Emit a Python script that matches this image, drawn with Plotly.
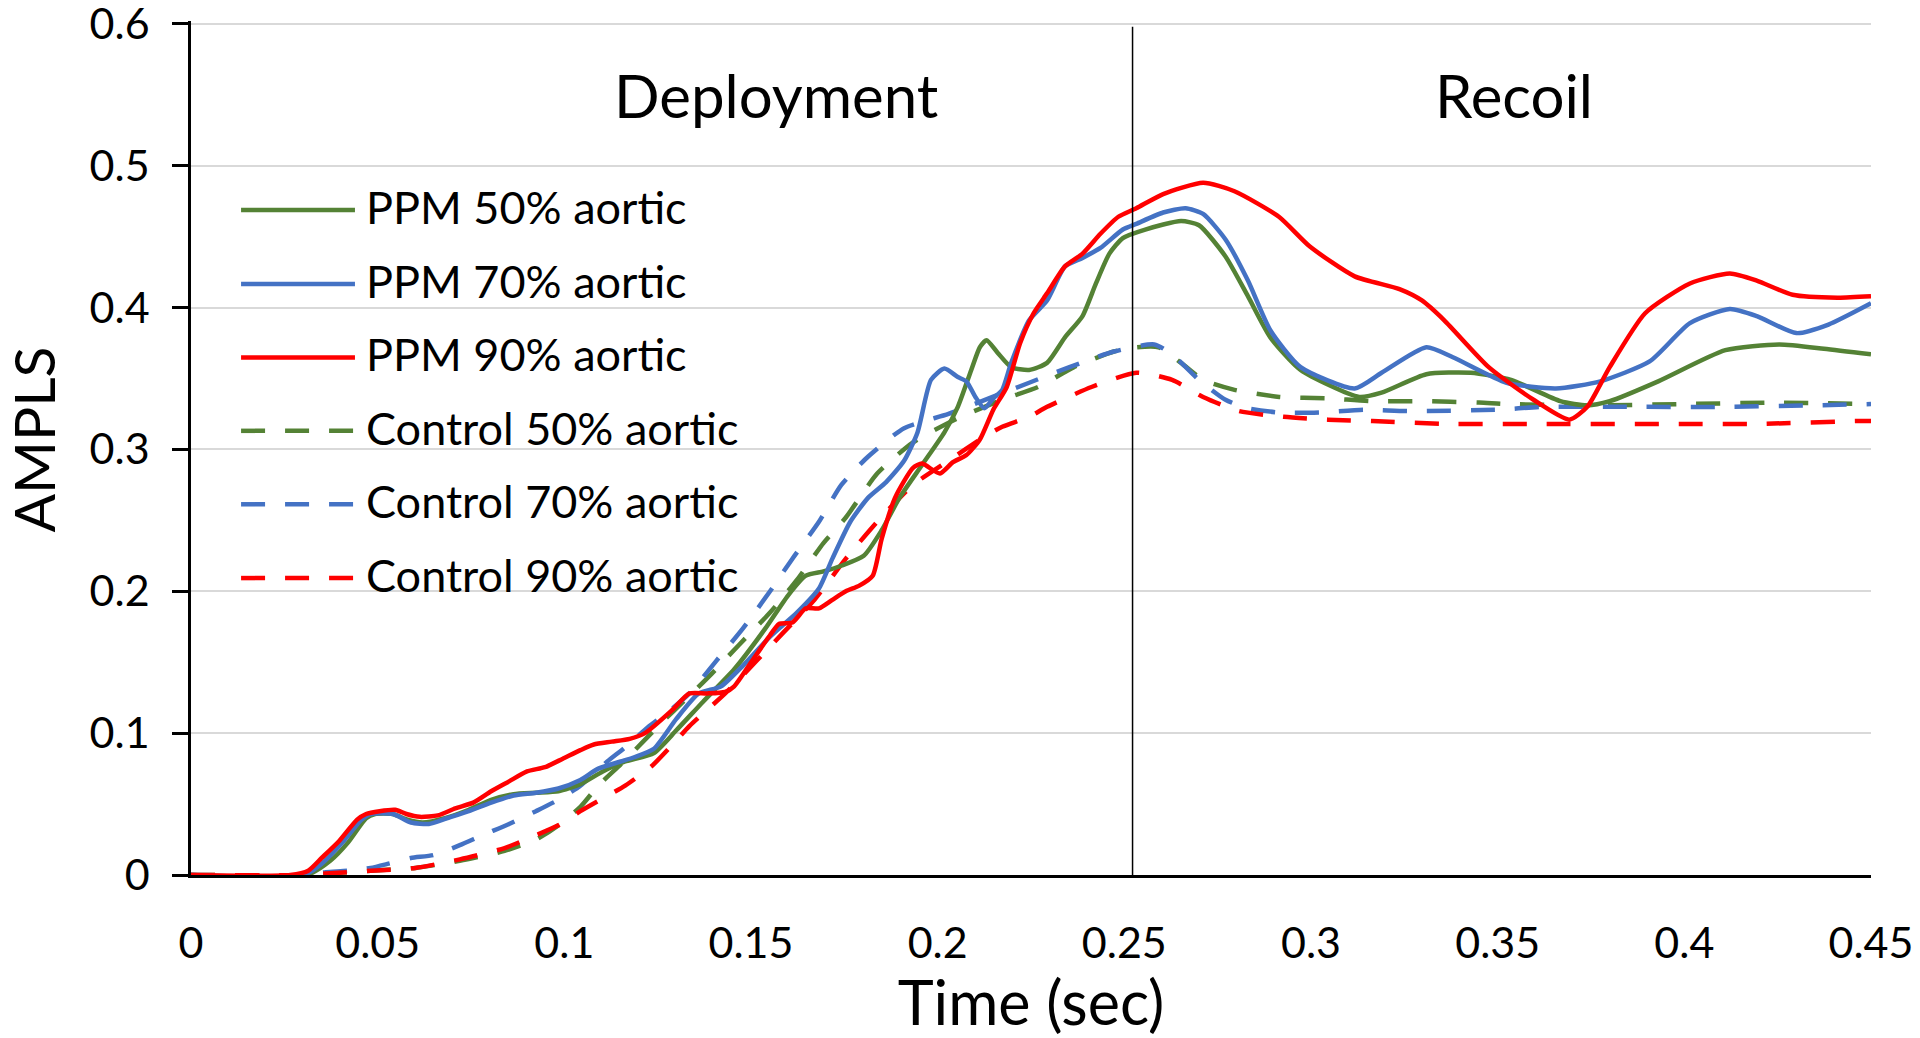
import plotly.graph_objects as go

# ---------------- data ----------------
series_names = ["PPM 50% aortic", "PPM 70% aortic", "PPM 90% aortic",
                "Control 50% aortic", "Control 70% aortic", "Control 90% aortic"]

ppm50_t = [0, 0.031, 0.0373, 0.0421, 0.0469, 0.0493, 0.054, 0.058, 0.062, 0.068, 0.0744, 0.0804,
           0.0864, 0.0924, 0.0984, 0.1043, 0.1103, 0.1163, 0.124, 0.13, 0.1371, 0.1455, 0.1539,
           0.1599, 0.1647, 0.1694, 0.1742, 0.1802, 0.185, 0.1898, 0.1958, 0.2018, 0.2054, 0.209,
           0.2113, 0.2131, 0.2161, 0.2197, 0.2245, 0.2293, 0.2341, 0.2388, 0.2424, 0.246, 0.2496,
           0.2556, 0.2652, 0.27, 0.2771, 0.2831, 0.2891, 0.2972, 0.3129, 0.3189, 0.3309, 0.3428,
           0.3536, 0.3668, 0.374, 0.380, 0.393, 0.411, 0.4254, 0.4374, 0.45]
ppm50_v = [0, 0, 0.010, 0.023, 0.040, 0.043, 0.043, 0.039, 0.037, 0.040, 0.046, 0.053,
           0.057, 0.058, 0.059, 0.064, 0.073, 0.080, 0.086, 0.102, 0.122, 0.145, 0.174,
           0.197, 0.211, 0.214, 0.218, 0.225, 0.243, 0.266, 0.289, 0.312, 0.330, 0.356,
           0.372, 0.377, 0.368, 0.358, 0.356, 0.361, 0.379, 0.394, 0.417, 0.438, 0.449,
           0.455, 0.461, 0.458, 0.436, 0.408, 0.379, 0.356, 0.337, 0.340, 0.353, 0.354,
           0.349, 0.334, 0.331, 0.334, 0.348, 0.370, 0.374, 0.371, 0.367]

ppm70_t = [0, 0.0302, 0.035, 0.0409, 0.0457, 0.0481, 0.0541, 0.0589, 0.0637, 0.0685, 0.0744,
           0.0804, 0.0864, 0.0924, 0.0984, 0.1043, 0.1091, 0.1151, 0.1187, 0.124, 0.13, 0.136,
           0.142, 0.148, 0.1551, 0.1623, 0.1682, 0.1718, 0.1766, 0.1814, 0.1862, 0.191, 0.1946,
           0.1982, 0.2018, 0.2054, 0.2077, 0.2101, 0.2125, 0.2149, 0.2173, 0.2197, 0.2245,
           0.2293, 0.2341, 0.2388, 0.2436, 0.2496, 0.2532, 0.2604, 0.2664, 0.2711, 0.2771,
           0.2831, 0.2891, 0.2972, 0.3117, 0.3189, 0.3309, 0.338, 0.3524, 0.3656, 0.3775,
           0.3907, 0.4015, 0.4122, 0.4194, 0.430, 0.4386, 0.45]
ppm70_v = [0, 0, 0.008, 0.024, 0.039, 0.043, 0.043, 0.037, 0.036, 0.040, 0.045,
           0.051, 0.056, 0.058, 0.061, 0.067, 0.075, 0.080, 0.083, 0.089, 0.110, 0.128,
           0.133, 0.148, 0.168, 0.185, 0.202, 0.223, 0.249, 0.266, 0.277, 0.292, 0.312,
           0.349, 0.357, 0.351, 0.348, 0.337, 0.329, 0.336, 0.342, 0.361, 0.391,
           0.405, 0.429, 0.435, 0.442, 0.455, 0.459, 0.467, 0.470, 0.466, 0.448,
           0.419, 0.384, 0.358, 0.343, 0.354, 0.372, 0.365, 0.347, 0.343, 0.348,
           0.362, 0.389, 0.399, 0.394, 0.382, 0.388, 0.403]

ppm90_t = [0, 0.0266, 0.0314, 0.035, 0.0397, 0.0445, 0.0469, 0.0505, 0.0547, 0.0577, 0.0613,
           0.0661, 0.0708, 0.0756, 0.0804, 0.0852, 0.09, 0.0948, 0.0996, 0.1043, 0.1079,
           0.1127, 0.1175, 0.1216, 0.1288, 0.1335, 0.1383, 0.1431, 0.1455, 0.1503, 0.1551,
           0.1575, 0.1611, 0.1647, 0.1682, 0.1718, 0.1754, 0.179, 0.1826, 0.185, 0.1886,
           0.1934, 0.1958, 0.2006, 0.2041, 0.2077, 0.2113, 0.2149, 0.2185, 0.2221, 0.2257,
           0.2293, 0.2341, 0.2388, 0.2436, 0.2484, 0.2532, 0.2604, 0.2711, 0.2795, 0.2914,
           0.2997, 0.3117, 0.3237, 0.3297, 0.3357, 0.3476, 0.3596, 0.3692, 0.374, 0.380,
           0.3895, 0.4015, 0.4122, 0.4194, 0.429, 0.441, 0.45]
ppm90_v = [0, 0, 0.003, 0.012, 0.024, 0.039, 0.043, 0.045, 0.046, 0.043, 0.041,
           0.042, 0.047, 0.051, 0.059, 0.066, 0.073, 0.076, 0.082, 0.088, 0.092,
           0.094, 0.096, 0.100, 0.116, 0.128, 0.128, 0.129, 0.133, 0.151, 0.169,
           0.177, 0.178, 0.188, 0.188, 0.194, 0.200, 0.204, 0.211, 0.237, 0.266,
           0.287, 0.290, 0.283, 0.291, 0.296, 0.307, 0.328, 0.344, 0.375, 0.396,
           0.410, 0.429, 0.438, 0.452, 0.464, 0.470, 0.480, 0.488, 0.482, 0.464,
           0.443, 0.422, 0.413, 0.405, 0.391, 0.358, 0.335, 0.321, 0.330, 0.358,
           0.396, 0.417, 0.424, 0.419, 0.409, 0.407, 0.408]

ctl50_t = [0, 0.03, 0.0361, 0.0481, 0.0601, 0.072, 0.084, 0.0924, 0.0984, 0.1043, 0.1091,
           0.1151, 0.1211, 0.1259, 0.133, 0.1395, 0.1467, 0.1551, 0.1623, 0.1694, 0.1754,
           0.1838, 0.1934, 0.2054, 0.2173, 0.2269, 0.2365, 0.2472, 0.2532, 0.2592, 0.2652,
           0.2711, 0.2795, 0.2915, 0.3045, 0.3165, 0.33, 0.345, 0.3525, 0.3763, 0.4003,
           0.4242, 0.45]
ctl50_v = [0, 0, 0.001, 0.003, 0.005, 0.010, 0.017, 0.025, 0.035, 0.048, 0.063,
           0.078, 0.094, 0.107, 0.125, 0.142, 0.162, 0.185, 0.208, 0.234, 0.252,
           0.283, 0.305, 0.322, 0.335, 0.344, 0.358, 0.369, 0.372, 0.372, 0.361,
           0.349, 0.342, 0.337, 0.336, 0.334, 0.334, 0.333, 0.332, 0.331, 0.332,
           0.333, 0.332]

ctl70_t = [0, 0.03, 0.0361, 0.0421, 0.0481, 0.0529, 0.0589, 0.0649, 0.072, 0.078, 0.0852,
           0.0924, 0.0984, 0.1043, 0.1115, 0.1163, 0.1223, 0.1283, 0.1335, 0.1407, 0.1479,
           0.1551, 0.1611, 0.1682, 0.1742, 0.1814, 0.191, 0.2029, 0.2137, 0.2245, 0.2353,
           0.2472, 0.258, 0.2628, 0.27, 0.2771, 0.2831, 0.2915, 0.3021, 0.3141, 0.326,
           0.350, 0.362, 0.386, 0.41, 0.434, 0.45]
ctl70_v = [0, 0, 0.002, 0.003, 0.005, 0.008, 0.012, 0.014, 0.021, 0.028, 0.036,
           0.045, 0.053, 0.063, 0.080, 0.090, 0.104, 0.116, 0.128, 0.151, 0.174,
           0.200, 0.223, 0.249, 0.275, 0.295, 0.315, 0.325, 0.336, 0.347, 0.358,
           0.369, 0.374, 0.367, 0.349, 0.335, 0.329, 0.326, 0.326, 0.328, 0.327,
           0.328, 0.330, 0.330, 0.330, 0.331, 0.332]

ctl90_t = [0, 0.03, 0.0361, 0.0481, 0.0601, 0.072, 0.084, 0.0924, 0.0984, 0.1043, 0.1103,
           0.1163, 0.1235, 0.1283, 0.1335, 0.1431, 0.1515, 0.1587, 0.167, 0.1754, 0.1838,
           0.1934, 0.2029, 0.2125, 0.2173, 0.2245, 0.2293, 0.2412, 0.2532, 0.2628, 0.2711,
           0.2807, 0.2927, 0.3045, 0.3165, 0.3357, 0.36, 0.40, 0.42, 0.446, 0.45]
ctl90_v = [0, 0, 0.001, 0.003, 0.005, 0.011, 0.019, 0.028, 0.035, 0.045, 0.054,
           0.063, 0.077, 0.090, 0.105, 0.128, 0.151, 0.171, 0.194, 0.223, 0.249,
           0.275, 0.292, 0.309, 0.316, 0.323, 0.330, 0.344, 0.354, 0.349, 0.337,
           0.327, 0.323, 0.321, 0.320, 0.318, 0.318, 0.318, 0.318, 0.320, 0.320]

x_tick_vals = [0, 0.05, 0.1, 0.15, 0.2, 0.25, 0.3, 0.35, 0.4, 0.45]
x_tick_text = ["0", "0.05", "0.1", "0.15", "0.2", "0.25", "0.3", "0.35", "0.4", "0.45"]
y_tick_vals = [0, 0.1, 0.2, 0.3, 0.4, 0.5, 0.6]
y_tick_text = ["0", "0.1", "0.2", "0.3", "0.4", "0.5", "0.6"]

phase_boundary = 0.2522
phase_labels = ["Deployment", "Recoil"]
phase_label_x = [0.1568, 0.3543]
phase_label_y = 0.550

# ---------------- styles ----------------
GREEN = "#548235"
BLUE = "#4472C4"
RED = "#FF0000"
FONT = "Lato"
DASH = "24px,20px"

series = [
    (ppm50_t, ppm50_v, GREEN, "solid"),
    (ppm70_t, ppm70_v, BLUE, "solid"),
    (ppm90_t, ppm90_v, RED, "solid"),
    (ctl50_t, ctl50_v, GREEN, DASH),
    (ctl70_t, ctl70_v, BLUE, DASH),
    (ctl90_t, ctl90_v, RED, DASH),
]

fig = go.Figure()
draw_order = [3, 4, 5, 0, 1, 2]
for i in draw_order:
    t, v, col, dash = series[i]
    fig.add_trace(go.Scatter(
        x=t, y=v, mode="lines", name=series_names[i], showlegend=False,
        line=dict(color=col, width=4.5, dash=dash, shape="spline", smoothing=0.6),
    ))

# phase boundary line
fig.add_shape(type="line", xref="x", yref="y", x0=phase_boundary, x1=phase_boundary,
              y0=0, y1=0.598, line=dict(color="black", width=1.5), layer="above")

for txt, px in zip(phase_labels, phase_label_x):
    fig.add_annotation(x=px, y=phase_label_y, xref="x", yref="y", text=txt, showarrow=False,
                       font=dict(family=FONT, size=60, color="black"),
                       xanchor="center", yanchor="middle")

# manual legend (long line samples as in the original)
leg_rows_y = [0.7786, 0.6921, 0.6061, 0.5201, 0.4341, 0.3477]
leg_x0, leg_x1, leg_tx = 0.0298, 0.0976, 0.103
for i, ry in enumerate(leg_rows_y):
    _, _, col, dash = series[i]
    fig.add_shape(type="line", xref="paper", yref="paper", x0=leg_x0, x1=leg_x1, y0=ry, y1=ry,
                  line=dict(color=col, width=4.5, dash=dash))
    fig.add_annotation(x=leg_tx, y=ry, xref="paper", yref="paper", text=series_names[i],
                       showarrow=False, xanchor="left", yanchor="middle", yshift=3,
                       font=dict(family=FONT, size=45, color="black"))

# y axis title as annotation (positioned like the original)
fig.add_annotation(x=-0.094, y=0.51, xref="paper", yref="paper", text="AMPLS",
                   showarrow=False, textangle=-90, xanchor="center", yanchor="middle",
                   font=dict(family=FONT, size=57, color="black"))

fig.update_layout(
    width=1920, height=1038,
    margin=dict(l=191, r=49, t=21, b=163, pad=0, autoexpand=False),
    plot_bgcolor="white", paper_bgcolor="white",
    font=dict(family=FONT, color="black"),
    showlegend=False,
)
fig.update_xaxes(
    range=[0, 0.45], tickvals=x_tick_vals, ticktext=x_tick_text, automargin=False,
    showgrid=False, zeroline=False, showline=True, linecolor="black", linewidth=3,
    ticks="", ticklabelstandoff=28,
    tickfont=dict(family=FONT, size=43, color="black"),
    title=dict(text="Time (sec)", font=dict(family=FONT, size=61, color="black"), standoff=8),
)
fig.update_yaxes(
    range=[0, 0.602], tickvals=y_tick_vals, ticktext=y_tick_text, automargin=False,
    showgrid=True, gridcolor="#D9D9D9", gridwidth=2,
    zeroline=False, showline=True, linecolor="black", linewidth=2.5,
    ticks="outside", ticklen=16, tickwidth=2.5, tickcolor="black", ticklabelstandoff=14,
    ticklabeloverflow="allow",
    tickfont=dict(family=FONT, size=43, color="black"),
)

fig.write_html("out.html", config={"displayModeBar": False},
               post_script="document.body.style.margin='0';document.body.style.overflow='hidden';")
